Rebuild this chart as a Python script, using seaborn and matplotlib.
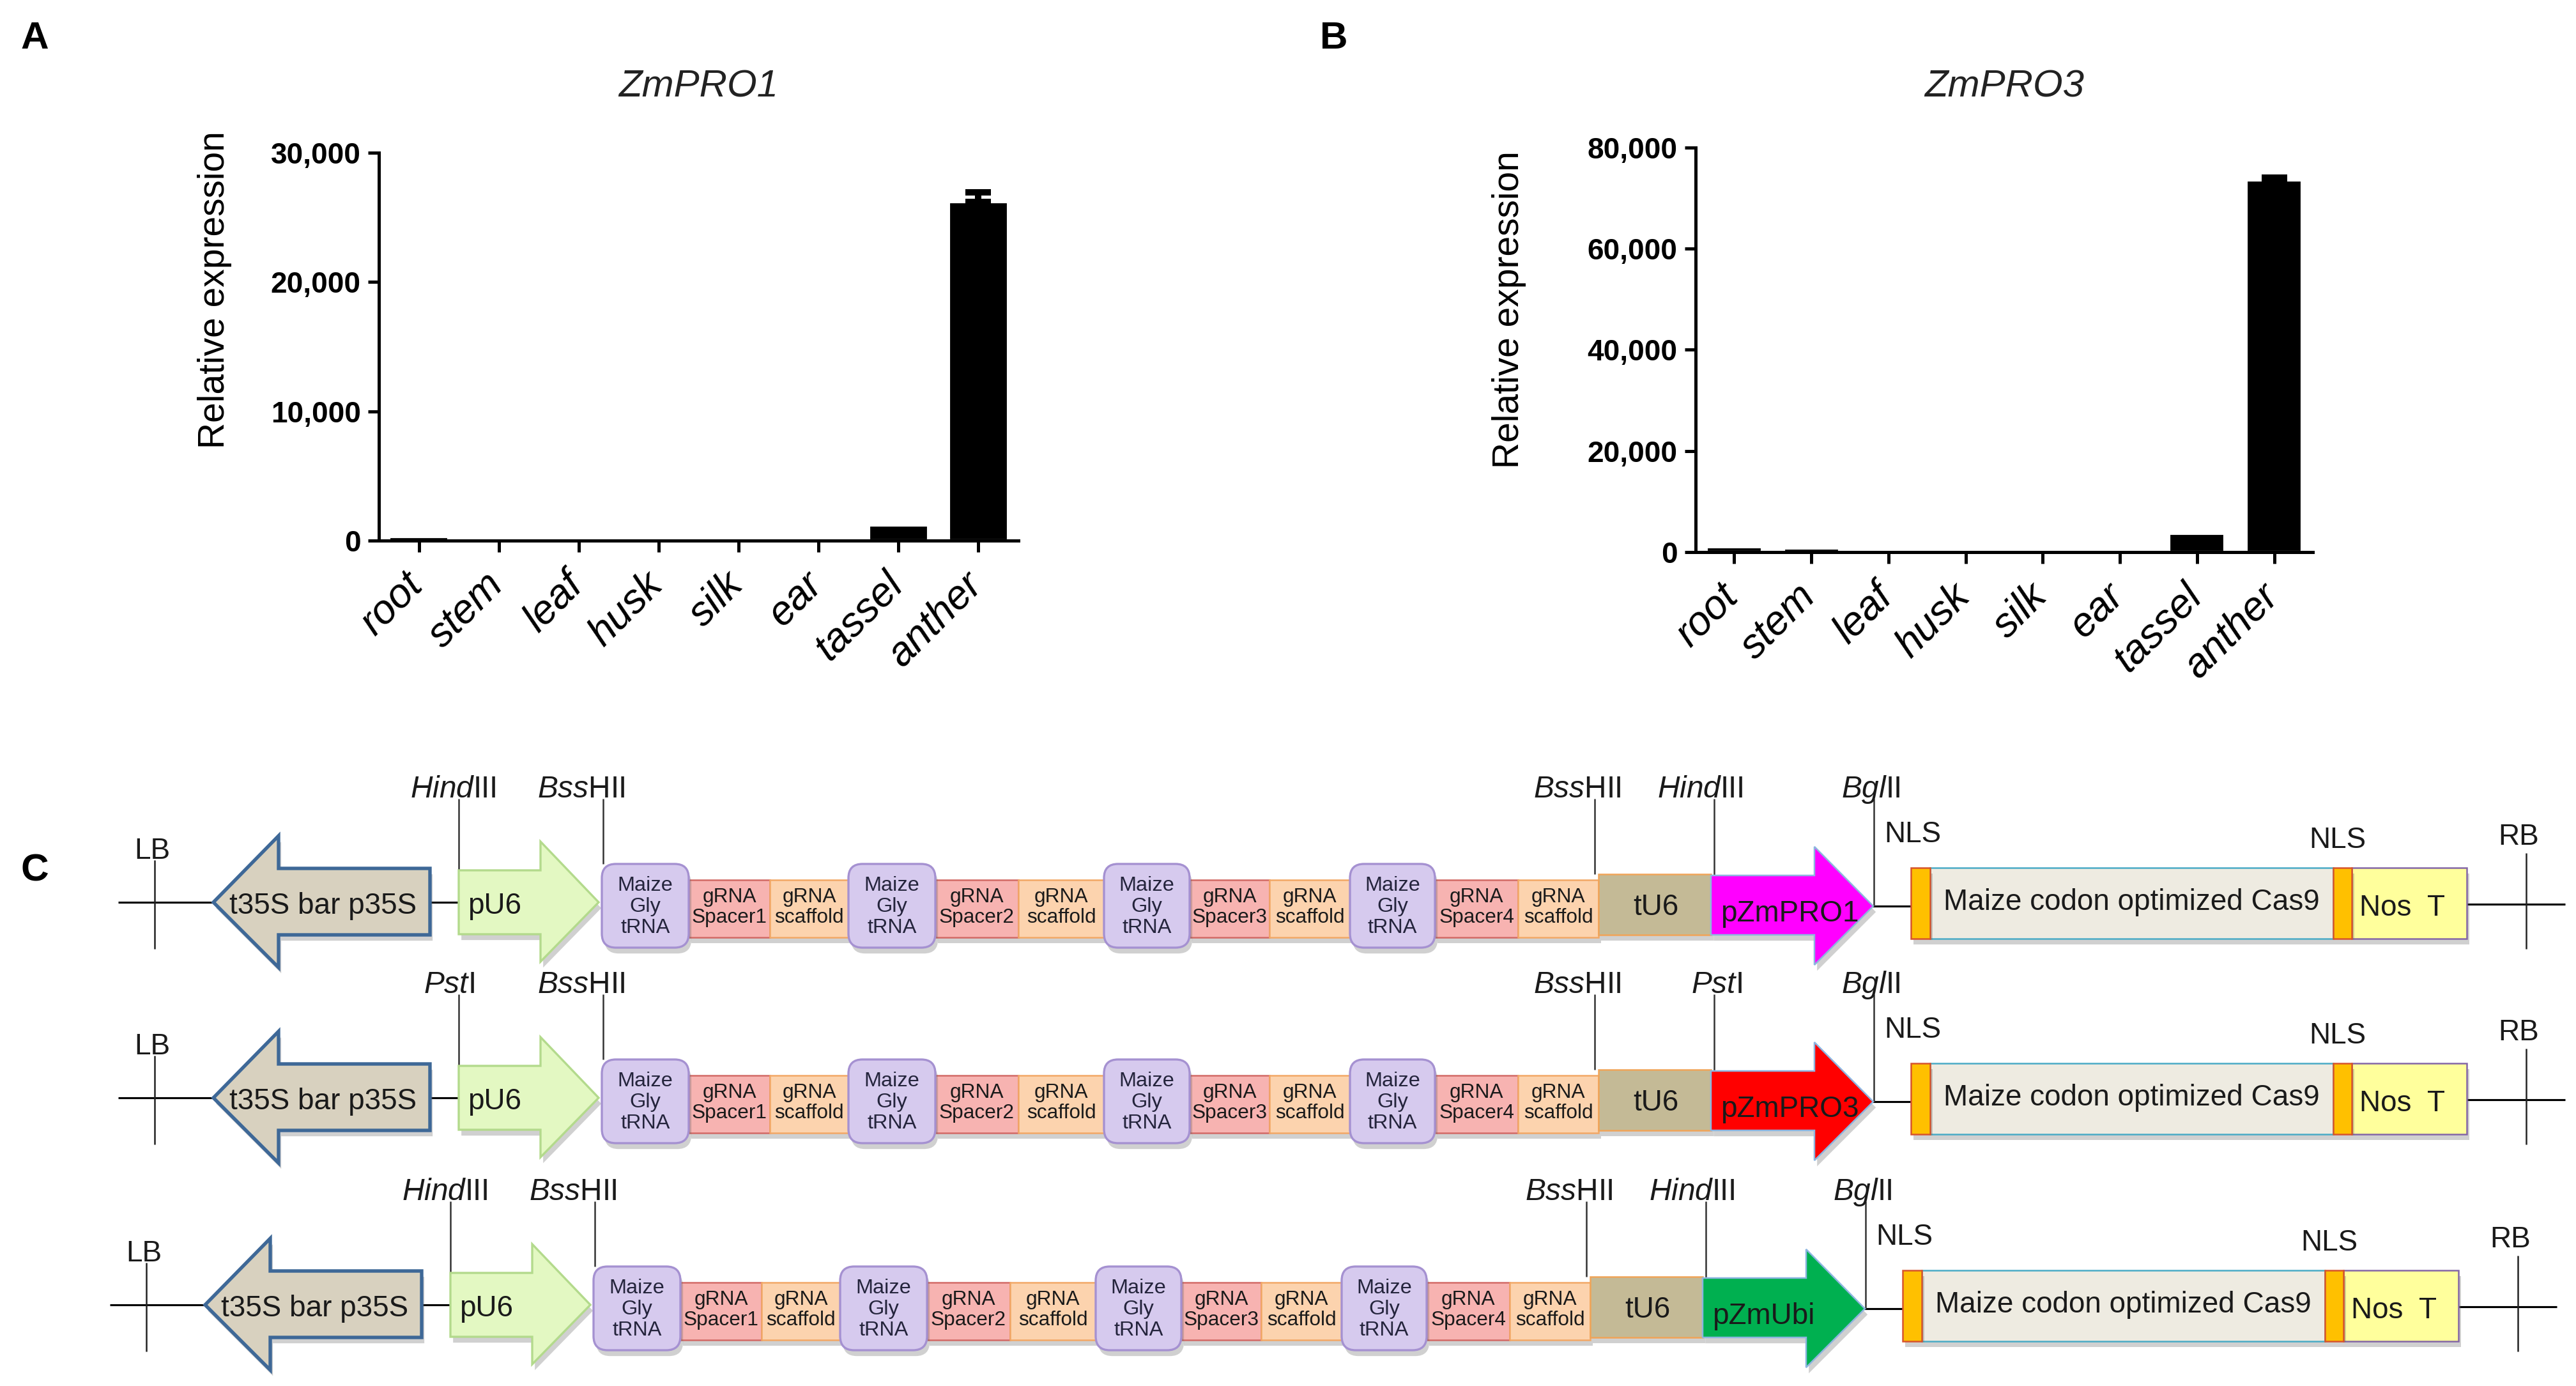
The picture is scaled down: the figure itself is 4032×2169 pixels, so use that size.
import numpy as np
import pandas as pd
import matplotlib
matplotlib.use("Agg")
import matplotlib.pyplot as plt
import matplotlib.transforms as mtransforms
import seaborn as sns
from matplotlib.patches import Polygon, Rectangle, FancyBboxPatch
import matplotlib.patheffects as pe

# ---------------- data ----------------
tissues = ["root", "stem", "leaf", "husk", "silk", "ear", "tassel", "anther"]
zmpro1_mean = [300, 30, 10, 10, 10, 10, 1200, 26200]
zmpro1_err = [0, 0, 0, 0, 0, 0, 0, 750]
zmpro3_mean = [1040, 760, 40, 30, 30, 30, 3690, 73500]
zmpro3_err = [0, 0, 0, 0, 0, 0, 0, 500]
zmpro1_yticks = [0, 10000, 20000, 30000]
zmpro3_yticks = [0, 20000, 40000, 60000, 80000]

constructs = ["pZmPRO1", "pZmPRO3", "pZmUbi"]
promoter_colors = ["#ff00ff", "#ff0000", "#00b050"]
flank_sites = ["HindIII", "PstI", "HindIII"]
spacer_names = ["Spacer1", "Spacer2", "Spacer3", "Spacer4"]
site_parts = {"HindIII": ("Hind", "III"), "PstI": ("Pst", "I"),
              "BssHII": ("Bss", "HII"), "BglII": ("Bgl", "II")}

# ---------------- style ----------------
W, H, DPI = 4032, 2169, 300
sns.set_theme(style="ticks")
plt.rcParams["font.family"] = ["Liberation Sans", "DejaVu Sans"]
plt.rcParams["mathtext.fontset"] = "custom"
plt.rcParams["mathtext.rm"] = "Liberation Sans"
plt.rcParams["mathtext.it"] = "Liberation Sans:italic"
plt.rcParams["mathtext.bf"] = "Liberation Sans:bold"
for k in ["text.color", "axes.labelcolor", "xtick.color", "ytick.color", "axes.edgecolor"]:
    plt.rcParams[k] = "black"

fig = plt.figure(figsize=(W / DPI, H / DPI), dpi=DPI)


def px_axes(l, t, r, b):
    return fig.add_axes([l / W, 1 - b / H, (r - l) / W, (b - t) / H])


def bar_panel(ax, means, errs, yticks, title, width, label_xy, title_y):
    df = pd.DataFrame({"tissue": tissues, "expr": means})
    sns.barplot(data=df, x="tissue", y="expr", color="black", saturation=1,
                width=width, errorbar=None, ax=ax, zorder=2)
    idx = [i for i, e in enumerate(errs) if e > 0]
    ax.errorbar(idx, [means[i] for i in idx],
                yerr=[np.zeros(len(idx)), [errs[i] for i in idx]], fmt="none",
                ecolor="black", elinewidth=2.4, capsize=4.9, capthick=2.4, zorder=3)
    ax.set_xlim(-0.5, len(tissues) - 0.5)
    ax.set_ylim(0, yticks[-1])
    ax.tick_params(axis="y", width=1.2, length=4, pad=2.8)
    ax.tick_params(axis="x", width=1.2, length=4.2, pad=5.0)
    ax.set_yticks(yticks)
    ax.set_yticklabels([f"{v:,}" for v in yticks], fontweight="bold", fontsize=11)
    ax.set_xticks(np.arange(len(tissues)))
    ax.set_xticklabels(tissues, rotation=45, ha="right", va="top",
                       rotation_mode="anchor", fontstyle="italic", fontsize=15.3)
    shift = mtransforms.ScaledTranslation(-24 / DPI, 0, fig.dpi_scale_trans)
    for lab in ax.get_xticklabels():
        lab.set_transform(lab.get_transform() + shift)
    ax.set_xlabel("")
    ax.set_ylabel("Relative expression", fontsize=13.7)
    ax.yaxis.set_label_coords(*label_xy)
    sns.despine(ax=ax)
    for s in ["left", "bottom"]:
        ax.spines[s].set_linewidth(1.2)
    ax.set_facecolor("none")
    ax.text(0.5, title_y, title, transform=ax.transAxes, ha="center",
            va="center", fontstyle="italic", fontsize=14.4, color="#222222")


axA = px_axes(593, 239, 1594, 846)
bar_panel(axA, zmpro1_mean, zmpro1_err, zmpro1_yticks, "ZmPRO1", 0.745,
          (-0.230, 0.646), 1.17)
axB = px_axes(2654, 231, 3620, 864)
bar_panel(axB, zmpro3_mean, zmpro3_err, zmpro3_yticks, "ZmPRO3", 0.72,
          (-0.274, 0.600), 1.15)

for letter, (lx, ly) in zip("ABC", [(54, 61), (2088, 61), (54, 1363)]):
    fig.text(lx / W, 1 - ly / H, letter, ha="center", va="center",
             fontweight="bold", fontsize=14.5)

# ---------------- construct diagram ----------------
dax = fig.add_axes([0, 0, 1, (H - 1150) / H])
dax.set_xlim(0, W)
dax.set_ylim(H, 1150)
dax.axis("off")

row_base = [1412, 1718, 2042]
row_shift = [0, 0, -13]
unit_widths = [(136, 127, 123), (136, 130, 134), (134, 125, 126), (133, 130, 126)]

shadow = [pe.SimplePatchShadow(offset=(1.0, -2.2), shadow_rgbFace="#666666", alpha=0.3),
          pe.Normal()]
TXT = "#1a1a1a"


def hline(x0, x1, y):
    dax.plot([x0, x1], [y, y], color="black", lw=0.75, zorder=1, solid_capstyle="butt")


def vline(x, y0, y1, color="#333333", lw=0.6):
    dax.plot([x, x], [y0, y1], color=color, lw=lw, zorder=1, solid_capstyle="butt")


def rect(x0, x1, y0, y1, fc, ec, lw=0.6, z=3):
    p = Rectangle((x0, y0), x1 - x0, y1 - y0, facecolor=fc, edgecolor=ec,
                  lw=lw, zorder=z)
    p.set_path_effects(shadow)
    dax.add_patch(p)


def site_label(name, x, y):
    it, rm = site_parts[name]
    dax.text(x, y, rf"$\mathit{{{it}}}$" + rm, ha="center", va="baseline",
             fontsize=11.5, color=TXT, zorder=5)


def draw_row(y0, dx, promoter, pcolor, fsite):
    X = lambda v: v + dx
    # backbone pieces
    hline(X(185), X(340), y0)
    hline(X(670), X(720), y0)
    hline(X(2925), X(2991), y0 + 6)
    hline(X(3861), X(4015), y0 + 3)
    # LB / RB borders
    vline(X(242), y0 - 66, y0 + 73, color="#222222", lw=0.6)
    dax.text(X(238), y0 - 80, "LB", ha="center", va="center", fontsize=11, color=TXT)
    vline(X(3954), y0 - 77, y0 + 73, color="#222222", lw=0.6)
    dax.text(X(3942), y0 - 102, "RB", ha="center", va="center", fontsize=11, color=TXT)

    # selectable marker (left-pointing arrow)
    tip, base, tail = X(334), X(436), X(673)
    p = Polygon([(tip, y0), (base, y0 - 104), (base, y0 - 53), (tail, y0 - 53),
                 (tail, y0 + 51), (base, y0 + 51), (base, y0 + 102)], closed=True,
                facecolor="#d8d1bf", edgecolor="#3e6897", lw=1.3, zorder=3,
                joinstyle="miter")
    p.set_path_effects(shadow)
    dax.add_patch(p)
    dax.text(X(506), y0 + 6, "t35S bar p35S", ha="center", va="center",
             fontsize=11, color=TXT, zorder=5)

    # pU6 arrow
    a0, a1, a2 = X(718), X(846), X(937)
    p = Polygon([(a0, y0 - 50), (a1, y0 - 50), (a1, y0 - 95), (a2, y0),
                 (a1, y0 + 93), (a1, y0 + 50), (a0, y0 + 50)], closed=True,
                facecolor="#e3f8c2", edgecolor="#b3da8c", lw=0.8, zorder=3)
    p.set_path_effects(shadow)
    dax.add_patch(p)
    dax.text(X(774), y0 + 6, "pU6", ha="center", va="center", fontsize=11,
             color=TXT, zorder=5)

    # tRNA-gRNA array
    x = X(942)
    for k, (wt, wsp, wsc) in enumerate(unit_widths):
        bx = FancyBboxPatch((x, y0 - 60), wt, 131,
                            boxstyle="round,pad=0,rounding_size=22",
                            facecolor="#d6caee", edgecolor="#a591d1", lw=0.8, zorder=4)
        bx.set_path_effects(shadow)
        dax.add_patch(bx)
        dax.text(x + wt / 2, y0 + 7, "Maize\nGly\ntRNA", ha="center", va="center",
                 fontsize=7.8, linespacing=1.15, color="#24243c", zorder=5)
        rect(x + wt, x + wt + wsp, y0 - 35, y0 + 55, "#f7b3b1", "#d26a66")
        dax.text(x + wt + wsp / 2, y0 + 8, "gRNA\n" + spacer_names[k], ha="center",
                 va="center", fontsize=7.6, linespacing=1.05, color=TXT, zorder=5)
        rect(x + wt + wsp, x + wt + wsp + wsc, y0 - 35, y0 + 55, "#fcd3ae", "#f2a866")
        dax.text(x + wt + wsp + wsc / 2, y0 + 8, "gRNA\nscaffold", ha="center",
                 va="center", fontsize=7.6, linespacing=1.05, color=TXT, zorder=5)
        x += wt + wsp + wsc

    # tU6 terminator
    rect(x, x + 176, y0 - 44, y0 + 51, "#c4ba96", "#f0a458")
    dax.text(x + 90, y0 + 8, "tU6", ha="center", va="center", fontsize=11,
             color=TXT, zorder=5)
    x += 176

    # promoter arrow
    b0, b1, b2 = x, x + 162, x + 254
    p = Polygon([(b0, y0 - 42), (b1, y0 - 42), (b1, y0 - 87), (b2, y0 + 6),
                 (b1, y0 + 98), (b1, y0 + 51), (b0, y0 + 51)], closed=True,
                facecolor=pcolor, edgecolor="#8db5e0", lw=0.6, zorder=3)
    p.set_path_effects(shadow)
    dax.add_patch(p)
    dax.text(b0 + 15, y0 + 18, promoter, ha="left", va="center", fontsize=11,
             color=TXT, zorder=5)
    x = b2 + 59

    # Cas9 cassette
    rect(x + 30, x + 661, y0 - 54, y0 + 57, "#eeebe1", "#4aabc6")
    rect(x + 690, x + 870, y0 - 54, y0 + 57, "#ffff9c", "#8466a6")
    rect(x, x + 30, y0 - 54, y0 + 57, "#ffc000", "#d6542c", z=4)
    rect(x + 661, x + 690, y0 - 54, y0 + 57, "#ffc000", "#d6542c", z=4)
    dax.text(x + 345, y0 + 0, "Maize codon optimized Cas9", ha="center",
             va="center", fontsize=11, color=TXT, zorder=5)
    dax.text(x + 769, y0 + 9, "Nos  T", ha="center", va="center", fontsize=11,
             color=TXT, zorder=5)
    dax.text(x + 3, y0 - 106, "NLS", ha="center", va="center", fontsize=11,
             color=TXT, zorder=5)
    dax.text(x + 668, y0 - 97, "NLS", ha="center", va="center", fontsize=11,
             color=TXT, zorder=5)

    # restriction sites
    sites = [(fsite, 709 if fsite == "HindIII" else 703, 718, y0 - 50),
             ("BssHII", 910, 944, y0 - 60),
             ("BssHII", 2469, 2496, y0 - 44),
             (fsite, 2661 if fsite == "HindIII" else 2687, 2683, y0 - 42),
             ("BglII", 2928, 2933, y0 + 6)]
    for name, lx, sx, bottom in sites:
        site_label(name, X(lx), y0 - 164)
        vline(X(sx), y0 - 162, bottom)


for y0, dx, prom, pc, fs in zip(row_base, row_shift, constructs, promoter_colors, flank_sites):
    draw_row(y0, dx, prom, pc, fs)

fig.savefig("out.png", dpi=DPI, facecolor="white")
